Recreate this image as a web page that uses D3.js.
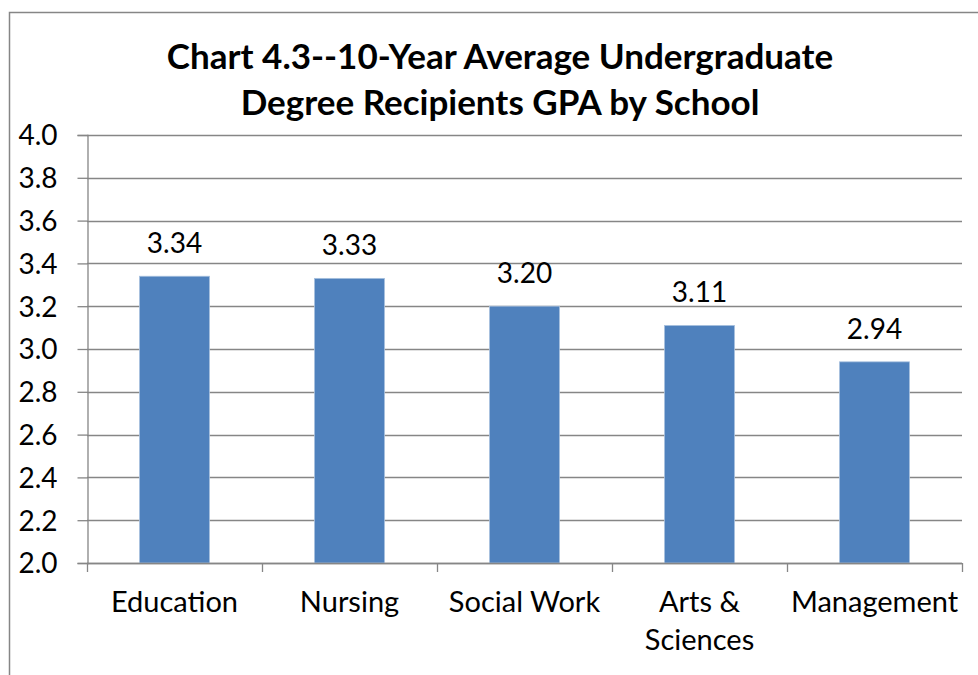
<!DOCTYPE html>
<html>
<head>
<meta charset="utf-8">
<script src="https://cdn.jsdelivr.net/npm/d3@7"></script>
<style>
  body { margin: 0; background: #fff; }
  svg text { font-family: Lato, "Open Sans", sans-serif; fill: #000; }
</style>
</head>
<body>
<div id="chart"></div>
<script>
var schools = ['Education', 'Nursing', 'Social Work', 'Arts & Sciences', 'Management'];
var gpa = [3.34, 3.33, 3.20, 3.11, 2.94];
var yTicks = [2.0, 2.2, 2.4, 2.6, 2.8, 3.0, 3.2, 3.4, 3.6, 3.8, 4.0];
var titleLines = ['Chart 4.3--10-Year Average Undergraduate', 'Degree Recipients GPA by School'];

var width = 978, height = 675;
var svg = d3.select('#chart').append('svg')
  .attr('width', width)
  .attr('height', height);

// outer chart border (runs off the right and bottom edge)
svg.append('rect')
  .attr('x', 9.5).attr('y', 12.5)
  .attr('width', 1000).attr('height', 700)
  .attr('fill', 'none')
  .attr('stroke', '#868686')
  .attr('stroke-width', 1.5);

var plotLeft = 87, plotRight = 962, plotTop = 135, plotBottom = 563;

var x = d3.scaleBand()
  .domain(schools)
  .range([plotLeft, plotRight])
  .paddingInner(0.6)
  .paddingOuter(0.3);

var y = d3.scaleLinear()
  .domain([2.0, 4.0])
  .range([plotBottom, plotTop]);

// gridlines
svg.append('g')
  .selectAll('line')
  .data(yTicks)
  .enter().append('line')
  .attr('x1', plotLeft).attr('x2', plotRight)
  .attr('y1', function(d) { return Math.round(y(d)) + 0.5; })
  .attr('y2', function(d) { return Math.round(y(d)) + 0.5; })
  .attr('stroke', '#868686')
  .attr('stroke-width', 1.3);

// y axis
var yAxis = svg.append('g')
  .attr('transform', 'translate(' + (plotLeft + 0.5) + ',0)')
  .call(d3.axisLeft(y).tickValues(yTicks).tickFormat(d3.format('.1f')).tickSizeOuter(0).tickSize(10).tickPadding(20));
yAxis.select('.domain').attr('stroke', '#868686').attr('stroke-width', 1.3);
yAxis.selectAll('.tick line').attr('stroke', '#868686').attr('stroke-width', 1.3);
yAxis.selectAll('.tick text').style('font-size', '28px').attr('dy', '0.35em');

// bars
svg.append('g')
  .selectAll('rect')
  .data(gpa)
  .enter().append('rect')
  .attr('x', function(d, i) { return x(schools[i]); })
  .attr('y', function(d) { return y(d); })
  .attr('width', x.bandwidth())
  .attr('height', function(d) { return y(2.0) - y(d); })
  .attr('fill', '#4F81BD')
  .attr('stroke', '#A7C0DE')
  .attr('stroke-width', 0.8);

// data labels
svg.append('g')
  .selectAll('text')
  .data(gpa)
  .enter().append('text')
  .attr('x', function(d, i) { return x(schools[i]) + x.bandwidth() / 2; })
  .attr('y', function(d) { return y(d) - 23; })
  .attr('text-anchor', 'middle')
  .style('font-size', '28px')
  .text(function(d) { return d3.format('.2f')(d); });

// x axis: ticks between categories
var step = (plotRight - plotLeft) / schools.length;
var xAxis = svg.append('g');
xAxis.append('line')
  .attr('x1', plotLeft).attr('x2', plotRight)
  .attr('y1', plotBottom + 0.5).attr('y2', plotBottom + 0.5)
  .attr('stroke', '#868686').attr('stroke-width', 1.3);
xAxis.selectAll('line.tick')
  .data(d3.range(schools.length + 1))
  .enter().append('line')
  .attr('class', 'tick')
  .attr('x1', function(i) { return Math.round(plotLeft + i * step) + 0.5; })
  .attr('x2', function(i) { return Math.round(plotLeft + i * step) + 0.5; })
  .attr('y1', plotBottom).attr('y2', plotBottom + 9)
  .attr('stroke', '#868686').attr('stroke-width', 1.3);

var catLines = {'Arts & Sciences': ['Arts &', 'Sciences']};
var catLabels = xAxis.selectAll('text')
  .data(schools)
  .enter().append('text')
  .attr('x', function(d) { return x(d) + x.bandwidth() / 2; })
  .attr('y', 612)
  .attr('text-anchor', 'middle')
  .style('font-size', '29px');
catLabels.each(function(d) {
  var lines = catLines[d] || [d];
  var t = d3.select(this);
  lines.forEach(function(l, k) {
    t.append('tspan')
      .attr('x', t.attr('x'))
      .attr('dy', k === 0 ? 0 : 38)
      .text(l);
  });
});

// title
svg.append('text')
  .attr('text-anchor', 'middle')
  .style('font-size', '35px')
  .style('font-weight', 'bold')
  .selectAll('tspan')
  .data(titleLines)
  .enter().append('tspan')
  .attr('x', 500)
  .attr('y', function(d, i) { return 69 + i * 46; })
  .text(function(d) { return d; });
</script>
</body>
</html>
